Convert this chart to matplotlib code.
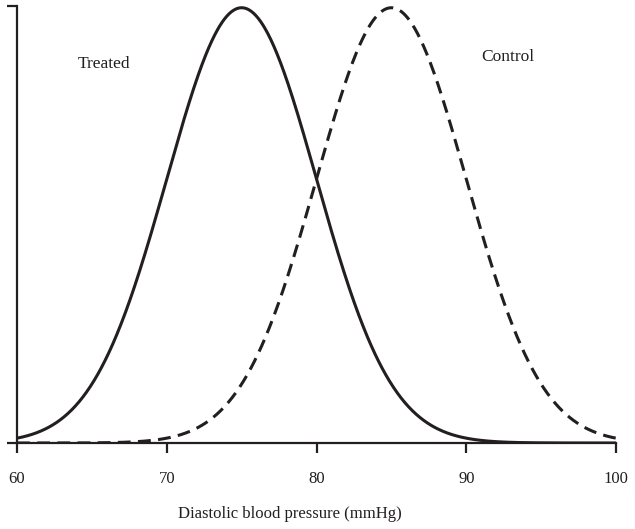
import numpy as np
import matplotlib
matplotlib.use("Agg")
import matplotlib.pyplot as plt

# Distribution parameters (mmHg)
groups = ["Treated", "Control"]
means = [75, 85]
sds = [5, 5]
styles = ["-", "--"]
x_ticks = [60, 70, 80, 90, 100]

ink = "#231f20"
plt.rcParams["font.family"] = ["Liberation Serif", "DejaVu Serif"]

fig = plt.figure(figsize=(6.35, 5.29), dpi=100)
ax = fig.add_axes([17 / 635, 1 - 443 / 529, 599 / 635, 437 / 529])

x = np.linspace(60, 100, 801)
peak = 0
for name, m, s, ls in zip(groups, means, sds, styles):
    y = np.exp(-0.5 * ((x - m) / s) ** 2) / (s * np.sqrt(2 * np.pi))
    peak = max(peak, y.max())
    line, = ax.plot(x, y, color=ink, lw=2.2, linestyle=ls, solid_capstyle="butt")
    if ls == "--":
        line.set_dashes((4.2, 2.4))

ax.set_xlim(60, 100)
ax.set_ylim(0, peak * 1.004)
ax.set_xticks(x_ticks)
ax.set_xticklabels([str(t) for t in x_ticks])
ax.set_yticks([0, peak * 1.004])
ax.set_yticklabels([])
ax.tick_params(axis="both", direction="out", length=7, width=1.6, color=ink,
               labelsize=12, labelcolor=ink)
ax.tick_params(axis="x", pad=13)
for side in ["top", "right"]:
    ax.spines[side].set_visible(False)
for side in ["left", "bottom"]:
    ax.spines[side].set_linewidth(1.6)
    ax.spines[side].set_color(ink)

ax.text(65.8, peak * 0.87, "Treated", ha="center", va="center", fontsize=12.5, color=ink)
ax.text(92.8, peak * 0.886, "Control", ha="center", va="center", fontsize=12.5, color=ink)

ax.set_xlabel("Diastolic blood pressure (mmHg)", fontsize=12, color=ink)
ax.xaxis.set_label_coords(0.456, -0.145)

fig.savefig("out.png", dpi=100)
